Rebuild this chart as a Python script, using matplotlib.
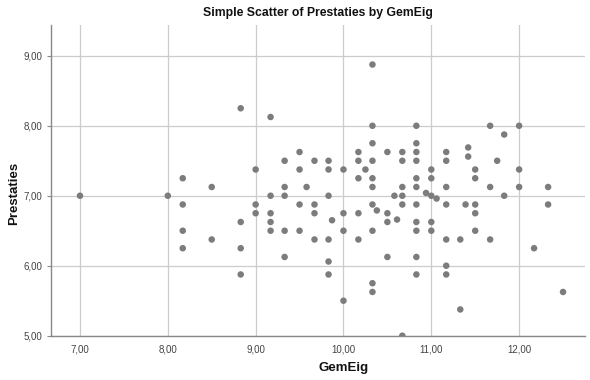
"""Simple scatter of Prestaties by GemEig (SPSS style)."""

import matplotlib

matplotlib.use("Agg")
import matplotlib.pyplot as plt
from matplotlib.ticker import FuncFormatter

plt.rcParams["font.family"] = ["Liberation Sans", "DejaVu Sans"]

# values, grouped per GemEig column
gem_eig_cols = [
	7.0, 8.0, 8.17, 8.5, 8.83, 9.0, 9.17, 9.33, 9.5, 9.58, 9.67, 9.83, 9.87,
	10.0, 10.17, 10.25, 10.33, 10.38, 10.5, 10.58, 10.61, 10.67, 10.83,
	10.94, 11.0, 11.06, 11.17, 11.33, 11.39, 11.42, 11.5, 11.67, 11.75,
	11.83, 12.0, 12.17, 12.33, 12.5,
]
prestaties_cols = [
	[7.0],
	[7.0],
	[7.25, 6.875, 6.5, 6.25],
	[7.125, 6.375],
	[8.25, 6.625, 6.25, 5.875],
	[7.375, 6.875, 6.75],
	[8.125, 7.0, 6.75, 6.625, 6.5],
	[7.5, 7.125, 7.0, 6.5, 6.125],
	[7.625, 7.375, 6.875, 6.5],
	[7.125],
	[7.5, 6.875, 6.75, 6.375],
	[7.5, 7.375, 7.0, 6.375, 6.06, 5.875],
	[6.65],
	[7.375, 6.75, 6.5, 5.5],
	[7.625, 7.5, 7.25, 6.75, 6.375],
	[7.375],
	[8.875, 8.0, 7.75, 7.5, 7.25, 7.125, 6.875, 6.5, 5.75, 5.625],
	[6.79],
	[7.625, 6.75, 6.625, 6.125],
	[7.0],
	[6.66],
	[7.625, 7.5, 7.125, 7.0, 6.875, 5.0],
	[8.0, 7.75, 7.625, 7.5, 7.25, 7.125, 6.875, 6.625, 6.5, 6.125, 5.875],
	[7.04],
	[7.375, 7.25, 7.0, 6.625, 6.5],
	[6.96],
	[7.625, 7.5, 7.125, 6.875, 6.375, 6.0, 5.875],
	[6.375, 5.375],
	[6.875],
	[7.69, 7.56],
	[7.375, 7.25, 6.875, 6.75, 6.5],
	[8.0, 7.125, 6.375],
	[7.5],
	[7.875, 7.0],
	[8.0, 7.375, 7.125],
	[6.25],
	[7.125, 6.875],
	[5.625],
]

x_ticks = [7.0, 8.0, 9.0, 10.0, 11.0, 12.0]
y_ticks = [5.0, 6.0, 7.0, 8.0, 9.0]

gem_eig = [x for x, ys in zip(gem_eig_cols, prestaties_cols) for _ in ys]
prestaties = [y for ys in prestaties_cols for y in ys]


def comma_fmt(value, _pos):
	return f"{value:.2f}".replace(".", ",")


fig = plt.figure(figsize=(5.9, 3.8), dpi=100)
ax = fig.add_axes([51 / 590, 1 - 335.7 / 380, 534 / 590, 310.7 / 380])

ax.scatter(gem_eig, prestaties, s=22, color="#7c7c7c", edgecolors="none", zorder=3)

ax.set_xlim(6.67, 12.75)
ax.set_ylim(5.0, 9.44)
ax.set_xticks(x_ticks)
ax.set_yticks(y_ticks)
ax.xaxis.set_major_formatter(FuncFormatter(comma_fmt))
ax.yaxis.set_major_formatter(FuncFormatter(comma_fmt))
ax.grid(True, color="#cccccc", linewidth=0.9, zorder=0)
ax.set_axisbelow(True)

for side in ("top", "right"):
	ax.spines[side].set_visible(False)
for side in ("left", "bottom"):
	ax.spines[side].set_color("#888888")
	ax.spines[side].set_linewidth(1.0)

ax.tick_params(axis="y", length=3, width=0.8, color="#888888", labelsize=7, labelcolor="#444444", pad=3)
ax.tick_params(axis="x", length=0, labelsize=7, labelcolor="#444444", pad=6)

fig.text(318 / 590, 1 - 13 / 380, "Simple Scatter of Prestaties by GemEig",
	ha="center", va="center", fontsize=8.8, fontweight="bold", color="#111111")
fig.text(344 / 590, 1 - 368 / 380, "GemEig", ha="center", va="center",
	fontsize=9.5, fontweight="bold", color="#111111")
fig.text(14 / 590, 1 - 193 / 380, "Prestaties", ha="center", va="center",
	rotation=90, fontsize=9.5, fontweight="bold", color="#111111")

fig.savefig("out.png", dpi=100)
plt.close(fig)
